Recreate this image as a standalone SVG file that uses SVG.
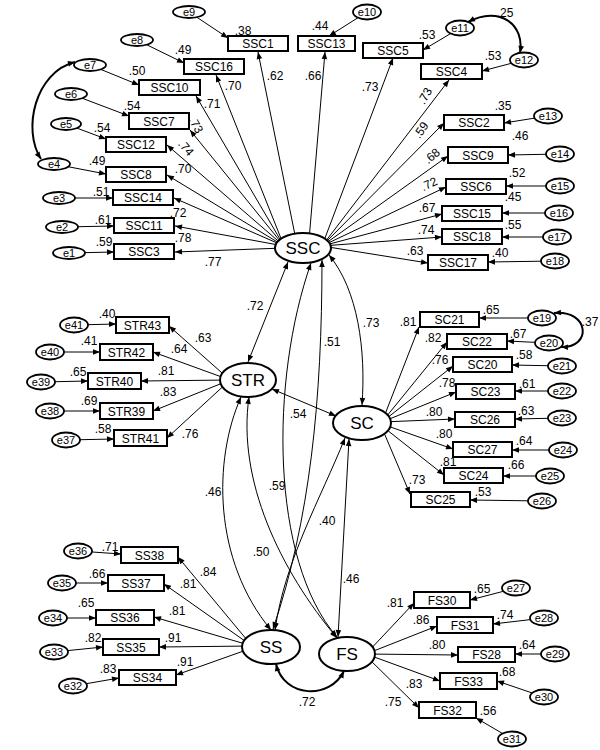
<svg xmlns="http://www.w3.org/2000/svg" width="600" height="750" viewBox="0 0 600 750">
<style>
text{font-family:"Liberation Sans",Arial,sans-serif;fill:#000}
.t{font-size:12px;text-anchor:middle}
.err text{font-size:11px}
.n{font-size:12px;text-anchor:middle}
.L{font-size:17px;text-anchor:middle}
.box rect{fill:#fff;stroke:#000;stroke-width:2}
.lat ellipse{fill:#fff;stroke:#000;stroke-width:2}
.err ellipse{fill:#fff;stroke:#000;stroke-width:1.8}
.a{fill:none;stroke:#000;stroke-width:1;marker-end:url(#ah)}
.b{fill:none;stroke:#000;stroke-width:1;marker-start:url(#ah);marker-end:url(#ah)}
.bb{fill:none;stroke:#000;stroke-width:2;marker-start:url(#ah);marker-end:url(#ah)}
</style>
<defs>
<marker id="ah" viewBox="0 0 10 10" refX="10" refY="5" markerWidth="8" markerHeight="7" markerUnits="userSpaceOnUse" orient="auto-start-reverse"><path d="M0,1 L10,5 L0,9 z" fill="#000"/></marker>
</defs>
<rect width="600" height="750" fill="#fff"/>
<g id="connectors">
<line class="a" x1="296" y1="240" x2="258" y2="52"/>
<line class="a" x1="309" y1="240" x2="325" y2="52"/>
<line class="a" x1="284" y1="246" x2="216" y2="75"/>
<line class="a" x1="284" y1="246" x2="196" y2="96"/>
<line class="a" x1="284" y1="246" x2="190" y2="130"/>
<line class="a" x1="284" y1="246" x2="167" y2="145"/>
<line class="a" x1="284" y1="246" x2="167" y2="175"/>
<line class="a" x1="284" y1="246" x2="174" y2="198"/>
<line class="a" x1="284" y1="246" x2="175" y2="226"/>
<line class="a" x1="284" y1="248" x2="175" y2="252"/>
<line class="a" x1="322" y1="246" x2="393" y2="58"/>
<line class="a" x1="322" y1="246" x2="449" y2="80"/>
<line class="a" x1="322" y1="246" x2="444" y2="123"/>
<line class="a" x1="322" y1="246" x2="448" y2="156"/>
<line class="a" x1="322" y1="246" x2="446" y2="187"/>
<line class="a" x1="322" y1="246" x2="442" y2="214"/>
<line class="a" x1="322" y1="246" x2="442" y2="237"/>
<line class="a" x1="322" y1="246" x2="428" y2="263"/>
<line class="a" x1="189" y1="12" x2="228" y2="38"/>
<line class="a" x1="137" y1="40" x2="184" y2="63"/>
<line class="a" x1="90" y1="65" x2="139" y2="85"/>
<line class="a" x1="71" y1="94" x2="129" y2="116"/>
<line class="a" x1="66" y1="124" x2="106" y2="139"/>
<line class="a" x1="54" y1="164" x2="106" y2="174"/>
<line class="a" x1="59" y1="198" x2="113" y2="198"/>
<line class="a" x1="62" y1="227" x2="114" y2="226"/>
<line class="a" x1="69" y1="253" x2="114" y2="252"/>
<line class="a" x1="367" y1="12" x2="329" y2="36"/>
<line class="a" x1="460" y1="28" x2="423" y2="50"/>
<line class="a" x1="524" y1="60" x2="482" y2="71"/>
<line class="a" x1="548" y1="116" x2="504" y2="123"/>
<line class="a" x1="560" y1="154" x2="508" y2="155"/>
<line class="a" x1="560" y1="186" x2="506" y2="186"/>
<line class="a" x1="559" y1="213" x2="502" y2="213"/>
<line class="a" x1="557" y1="237" x2="502" y2="237"/>
<line class="a" x1="555" y1="261" x2="488" y2="262"/>
<line class="a" x1="230" y1="380" x2="169" y2="326"/>
<line class="a" x1="230" y1="380" x2="153" y2="352"/>
<line class="a" x1="230" y1="380" x2="141" y2="381"/>
<line class="a" x1="230" y1="380" x2="153" y2="411"/>
<line class="a" x1="230" y1="380" x2="167" y2="438"/>
<line class="a" x1="74" y1="325" x2="116" y2="324"/>
<line class="a" x1="50" y1="352" x2="100" y2="352"/>
<line class="a" x1="41" y1="382" x2="88" y2="381"/>
<line class="a" x1="50" y1="411" x2="100" y2="411"/>
<line class="a" x1="66" y1="440" x2="114" y2="439"/>
<line class="a" x1="382" y1="422" x2="419" y2="327"/>
<line class="a" x1="382" y1="422" x2="447" y2="342"/>
<line class="a" x1="382" y1="422" x2="453" y2="366"/>
<line class="a" x1="382" y1="422" x2="456" y2="392"/>
<line class="a" x1="382" y1="422" x2="455" y2="419"/>
<line class="a" x1="382" y1="424" x2="453" y2="449"/>
<line class="a" x1="382" y1="426" x2="444" y2="475"/>
<line class="a" x1="382" y1="428" x2="410" y2="494"/>
<line class="a" x1="542" y1="318" x2="479" y2="318"/>
<line class="a" x1="549" y1="343" x2="507" y2="341"/>
<line class="a" x1="562" y1="366" x2="512" y2="365"/>
<line class="a" x1="562" y1="391" x2="515" y2="391"/>
<line class="a" x1="562" y1="418" x2="515" y2="419"/>
<line class="a" x1="563" y1="450" x2="512" y2="450"/>
<line class="a" x1="550" y1="476" x2="503" y2="476"/>
<line class="a" x1="542" y1="501" x2="470" y2="500"/>
<line class="a" x1="252" y1="646" x2="178" y2="557"/>
<line class="a" x1="252" y1="646" x2="164" y2="584"/>
<line class="a" x1="252" y1="646" x2="154" y2="617"/>
<line class="a" x1="252" y1="646" x2="159" y2="647"/>
<line class="a" x1="252" y1="648" x2="176" y2="675"/>
<line class="a" x1="78" y1="551" x2="121" y2="554"/>
<line class="a" x1="62" y1="583" x2="108" y2="583"/>
<line class="a" x1="53" y1="618" x2="96" y2="618"/>
<line class="a" x1="54" y1="652" x2="103" y2="647"/>
<line class="a" x1="73" y1="686" x2="119" y2="678"/>
<line class="a" x1="366" y1="654" x2="414" y2="603"/>
<line class="a" x1="366" y1="654" x2="437" y2="626"/>
<line class="a" x1="366" y1="654" x2="458" y2="655"/>
<line class="a" x1="366" y1="654" x2="440" y2="681"/>
<line class="a" x1="366" y1="656" x2="419" y2="708"/>
<line class="a" x1="516" y1="588" x2="470" y2="600"/>
<line class="a" x1="544" y1="618" x2="493" y2="624"/>
<line class="a" x1="555" y1="654" x2="515" y2="654"/>
<line class="a" x1="544" y1="697" x2="497" y2="681"/>
<line class="a" x1="512" y1="739" x2="476" y2="718"/>
<line class="b" x1="248" y1="362" x2="288" y2="262"/>
<path class="b" d="M329,255 C358,290 366,350 362,405"/>
<path class="b" d="M322,260 C322,400 310,520 273,629"/>
<path class="b" d="M311,263 C270,380 270,560 337,637"/>
<line class="b" x1="272" y1="389" x2="336" y2="416"/>
<path class="b" d="M241,397 C213,460 213,560 271,630"/>
<path class="b" d="M249,397 C237,480 280,570 337,638"/>
<path class="b" d="M345,438 C320,500 285,560 275,630"/>
<line class="b" x1="349" y1="439" x2="338" y2="637"/>
<path class="bb" d="M276,664 C284,698 330,700 344,671"/>
<path class="bb" d="M75,62 C35,72 22,130 41,159"/>
<path class="bb" d="M468,22 C500,5 525,25 520,53"/>
<path class="bb" d="M554,313 C590,310 592,348 561,347"/>
</g>

<g id="n-SSC" class="lat"><ellipse cx="303" cy="248" rx="28" ry="15"/><text class="L" x="303" y="254">SSC</text></g>
<g id="n-STR" class="lat"><ellipse cx="248" cy="380" rx="28" ry="17"/><text class="L" x="248" y="386">STR</text></g>
<g id="n-SC" class="lat"><ellipse cx="362" cy="423" rx="29" ry="17"/><text class="L" x="362" y="429">SC</text></g>
<g id="n-SS" class="lat"><ellipse cx="271" cy="647" rx="29" ry="17"/><text class="L" x="271" y="653">SS</text></g>
<g id="n-FS" class="lat"><ellipse cx="347" cy="654" rx="28" ry="17"/><text class="L" x="347" y="660">FS</text></g>

<g id="n-SSC1" class="box"><rect x="228" y="36" width="60" height="15"/><text class="t" x="258" y="48">SSC1</text></g>
<g id="n-SSC13" class="box"><rect x="298" y="36" width="57" height="15"/><text class="t" x="326.5" y="48">SSC13</text></g>
<g id="n-SSC16" class="box"><rect x="184" y="59" width="60" height="15"/><text class="t" x="214" y="71">SSC16</text></g>
<g id="n-SSC10" class="box"><rect x="139" y="80" width="61" height="15"/><text class="t" x="169.5" y="92">SSC10</text></g>
<g id="n-SSC7" class="box"><rect x="129" y="113" width="60" height="16"/><text class="t" x="159" y="125.5">SSC7</text></g>
<g id="n-SSC12" class="box"><rect x="106" y="137" width="60" height="15"/><text class="t" x="136" y="149">SSC12</text></g>
<g id="n-SSC8" class="box"><rect x="106" y="167" width="60" height="15"/><text class="t" x="136" y="179">SSC8</text></g>
<g id="n-SSC14" class="box"><rect x="113" y="190" width="60" height="15"/><text class="t" x="143" y="202">SSC14</text></g>
<g id="n-SSC11" class="box"><rect x="114" y="218" width="60" height="15"/><text class="t" x="144" y="230">SSC11</text></g>
<g id="n-SSC3" class="box"><rect x="114" y="244" width="60" height="15"/><text class="t" x="144" y="256">SSC3</text></g>
<g id="n-SSC5" class="box"><rect x="363" y="43" width="60" height="15"/><text class="t" x="393" y="55">SSC5</text></g>
<g id="n-SSC4" class="box"><rect x="421" y="64" width="61" height="15"/><text class="t" x="451.5" y="76">SSC4</text></g>
<g id="n-SSC2" class="box"><rect x="444" y="115" width="60" height="15"/><text class="t" x="474" y="127">SSC2</text></g>
<g id="n-SSC9" class="box"><rect x="448" y="147" width="60" height="16"/><text class="t" x="478" y="159.5">SSC9</text></g>
<g id="n-SSC6" class="box"><rect x="446" y="179" width="60" height="15"/><text class="t" x="476" y="191">SSC6</text></g>
<g id="n-SSC15" class="box"><rect x="442" y="206" width="60" height="15"/><text class="t" x="472" y="218">SSC15</text></g>
<g id="n-SSC18" class="box"><rect x="442" y="229" width="60" height="15"/><text class="t" x="472" y="241">SSC18</text></g>
<g id="n-SSC17" class="box"><rect x="428" y="255" width="60" height="15"/><text class="t" x="458" y="267">SSC17</text></g>

<g id="n-STR43" class="box"><rect x="116" y="317" width="53" height="16"/><text class="t" x="142.5" y="329.5">STR43</text></g>
<g id="n-STR42" class="box"><rect x="100" y="344" width="53" height="16"/><text class="t" x="126.5" y="356.5">STR42</text></g>
<g id="n-STR40" class="box"><rect x="88" y="373" width="53" height="16"/><text class="t" x="114.5" y="385.5">STR40</text></g>
<g id="n-STR39" class="box"><rect x="100" y="403" width="53" height="16"/><text class="t" x="126.5" y="415.5">STR39</text></g>
<g id="n-STR41" class="box"><rect x="114" y="430" width="53" height="16"/><text class="t" x="140.5" y="442.5">STR41</text></g>

<g id="n-SC21" class="box"><rect x="420" y="312" width="59" height="15"/><text class="t" x="449.5" y="324">SC21</text></g>
<g id="n-SC22" class="box"><rect x="447" y="334" width="60" height="15"/><text class="t" x="477" y="346">SC22</text></g>
<g id="n-SC20" class="box"><rect x="453" y="357" width="59" height="15"/><text class="t" x="482.5" y="369">SC20</text></g>
<g id="n-SC23" class="box"><rect x="456" y="384" width="59" height="15"/><text class="t" x="485.5" y="396">SC23</text></g>
<g id="n-SC26" class="box"><rect x="455" y="412" width="60" height="15"/><text class="t" x="485" y="424">SC26</text></g>
<g id="n-SC27" class="box"><rect x="453" y="442" width="59" height="15"/><text class="t" x="482.5" y="454">SC27</text></g>
<g id="n-SC24" class="box"><rect x="444" y="468" width="59" height="15"/><text class="t" x="473.5" y="480">SC24</text></g>
<g id="n-SC25" class="box"><rect x="411" y="492" width="59" height="15"/><text class="t" x="440.5" y="504">SC25</text></g>

<g id="n-SS38" class="box"><rect x="121" y="547" width="57" height="16"/><text class="t" x="149.5" y="559.5">SS38</text></g>
<g id="n-SS37" class="box"><rect x="108" y="575" width="56" height="16"/><text class="t" x="136" y="587.5">SS37</text></g>
<g id="n-SS36" class="box"><rect x="96" y="610" width="58" height="15"/><text class="t" x="125" y="622">SS36</text></g>
<g id="n-SS35" class="box"><rect x="103" y="639" width="56" height="16"/><text class="t" x="131" y="651.5">SS35</text></g>
<g id="n-SS34" class="box"><rect x="119" y="670" width="57" height="15"/><text class="t" x="147.5" y="682">SS34</text></g>

<g id="n-FS30" class="box"><rect x="414" y="592" width="56" height="16"/><text class="t" x="442" y="604.5">FS30</text></g>
<g id="n-FS31" class="box"><rect x="437" y="617" width="56" height="16"/><text class="t" x="465" y="629.5">FS31</text></g>
<g id="n-FS28" class="box"><rect x="458" y="647" width="57" height="15"/><text class="t" x="486.5" y="659">FS28</text></g>
<g id="n-FS33" class="box"><rect x="440" y="673" width="57" height="16"/><text class="t" x="468.5" y="685.5">FS33</text></g>
<g id="n-FS32" class="box"><rect x="419" y="702" width="57" height="16"/><text class="t" x="447.5" y="714.5">FS32</text></g>

<g id="n-e9" class="err"><ellipse cx="189" cy="12" rx="16" ry="6"/><text class="t" x="189" y="16">e9</text></g>
<g id="n-e8" class="err"><ellipse cx="137" cy="40" rx="16" ry="6"/><text class="t" x="137" y="44">e8</text></g>
<g id="n-e7" class="err"><ellipse cx="90" cy="65" rx="16" ry="6"/><text class="t" x="90" y="69">e7</text></g>
<g id="n-e6" class="err"><ellipse cx="71" cy="94" rx="16" ry="6"/><text class="t" x="71" y="98">e6</text></g>
<g id="n-e5" class="err"><ellipse cx="66" cy="124" rx="15" ry="6"/><text class="t" x="66" y="128">e5</text></g>
<g id="n-e4" class="err"><ellipse cx="54" cy="164" rx="16" ry="6"/><text class="t" x="54" y="168">e4</text></g>
<g id="n-e3" class="err"><ellipse cx="59" cy="198" rx="16" ry="6"/><text class="t" x="59" y="202">e3</text></g>
<g id="n-e2" class="err"><ellipse cx="62" cy="227" rx="16" ry="6"/><text class="t" x="62" y="231">e2</text></g>
<g id="n-e1" class="err"><ellipse cx="69" cy="253" rx="16" ry="6"/><text class="t" x="69" y="257">e1</text></g>
<g id="n-e10" class="err"><ellipse cx="367" cy="12" rx="14" ry="7.5"/><text class="t" x="367" y="16">e10</text></g>
<g id="n-e11" class="err"><ellipse cx="460" cy="28" rx="14" ry="7.5"/><text class="t" x="460" y="32">e11</text></g>
<g id="n-e12" class="err"><ellipse cx="524" cy="60" rx="14" ry="7.5"/><text class="t" x="524" y="64">e12</text></g>
<g id="n-e13" class="err"><ellipse cx="548" cy="116" rx="14" ry="7.5"/><text class="t" x="548" y="120">e13</text></g>
<g id="n-e14" class="err"><ellipse cx="560" cy="154" rx="14" ry="7.5"/><text class="t" x="560" y="158">e14</text></g>
<g id="n-e15" class="err"><ellipse cx="560" cy="186" rx="14" ry="7.5"/><text class="t" x="560" y="190">e15</text></g>
<g id="n-e16" class="err"><ellipse cx="559" cy="213" rx="14" ry="7.5"/><text class="t" x="559" y="217">e16</text></g>
<g id="n-e17" class="err"><ellipse cx="557" cy="237" rx="14" ry="7.5"/><text class="t" x="557" y="241">e17</text></g>
<g id="n-e18" class="err"><ellipse cx="555" cy="261" rx="14" ry="7.5"/><text class="t" x="555" y="265">e18</text></g>
<g id="n-e41" class="err"><ellipse cx="74" cy="325" rx="14" ry="7.5"/><text class="t" x="74" y="329">e41</text></g>
<g id="n-e40" class="err"><ellipse cx="50" cy="352" rx="14" ry="7.5"/><text class="t" x="50" y="356">e40</text></g>
<g id="n-e39" class="err"><ellipse cx="41" cy="382" rx="14" ry="7.5"/><text class="t" x="41" y="386">e39</text></g>
<g id="n-e38" class="err"><ellipse cx="50" cy="411" rx="14" ry="7.5"/><text class="t" x="50" y="415">e38</text></g>
<g id="n-e37" class="err"><ellipse cx="66" cy="440" rx="14" ry="7.5"/><text class="t" x="66" y="444">e37</text></g>
<g id="n-e19" class="err"><ellipse cx="542" cy="318" rx="14" ry="7.5"/><text class="t" x="542" y="322">e19</text></g>
<g id="n-e20" class="err"><ellipse cx="549" cy="343" rx="14" ry="7.5"/><text class="t" x="549" y="347">e20</text></g>
<g id="n-e21" class="err"><ellipse cx="562" cy="366" rx="14" ry="7.5"/><text class="t" x="562" y="370">e21</text></g>
<g id="n-e22" class="err"><ellipse cx="562" cy="391" rx="14" ry="7.5"/><text class="t" x="562" y="395">e22</text></g>
<g id="n-e23" class="err"><ellipse cx="562" cy="418" rx="14" ry="7.5"/><text class="t" x="562" y="422">e23</text></g>
<g id="n-e24" class="err"><ellipse cx="563" cy="450" rx="14" ry="7.5"/><text class="t" x="563" y="454">e24</text></g>
<g id="n-e25" class="err"><ellipse cx="550" cy="476" rx="14" ry="7.5"/><text class="t" x="550" y="480">e25</text></g>
<g id="n-e26" class="err"><ellipse cx="542" cy="501" rx="14" ry="7.5"/><text class="t" x="542" y="505">e26</text></g>
<g id="n-e36" class="err"><ellipse cx="78" cy="551" rx="14" ry="7.5"/><text class="t" x="78" y="555">e36</text></g>
<g id="n-e35" class="err"><ellipse cx="62" cy="583" rx="14" ry="7.5"/><text class="t" x="62" y="587">e35</text></g>
<g id="n-e34" class="err"><ellipse cx="53" cy="618" rx="14" ry="7.5"/><text class="t" x="53" y="622">e34</text></g>
<g id="n-e33" class="err"><ellipse cx="54" cy="652" rx="14" ry="7.5"/><text class="t" x="54" y="656">e33</text></g>
<g id="n-e32" class="err"><ellipse cx="73" cy="686" rx="14" ry="7.5"/><text class="t" x="73" y="690">e32</text></g>
<g id="n-e27" class="err"><ellipse cx="516" cy="588" rx="14" ry="7.5"/><text class="t" x="516" y="592">e27</text></g>
<g id="n-e28" class="err"><ellipse cx="544" cy="618" rx="14" ry="7.5"/><text class="t" x="544" y="622">e28</text></g>
<g id="n-e29" class="err"><ellipse cx="555" cy="654" rx="14" ry="7.5"/><text class="t" x="555" y="658">e29</text></g>
<g id="n-e30" class="err"><ellipse cx="544" cy="697" rx="14" ry="7.5"/><text class="t" x="544" y="701">e30</text></g>
<g id="n-e31" class="err"><ellipse cx="512" cy="739" rx="14" ry="7.5"/><text class="t" x="512" y="743">e31</text></g>

<g id="labels">
<text class="n" x="243" y="35">.38</text>
<text class="n" x="275" y="80">.62</text>
<text class="n" x="183" y="54">.49</text>
<text class="n" x="233" y="90">.70</text>
<text class="n" x="137" y="75">.50</text>
<text class="n" x="212" y="108">.71</text>
<text class="n" x="132" y="110">.54</text>
<text class="n" transform="translate(196,125) rotate(60)" x="0" y="4">.73</text>
<text class="n" x="102" y="132">.54</text>
<text class="n" transform="translate(186,148) rotate(50)" x="0" y="4">.74</text>
<text class="n" x="97" y="165">.49</text>
<text class="n" x="183" y="173">.70</text>
<text class="n" x="101" y="196">.51</text>
<text class="n" x="178" y="217">.72</text>
<text class="n" x="103" y="224">.61</text>
<text class="n" x="183" y="242">.78</text>
<text class="n" x="104" y="246">.59</text>
<text class="n" x="213" y="266">.77</text>
<text class="n" x="320" y="30">.44</text>
<text class="n" x="313" y="80">.66</text>
<text class="n" x="427" y="39">.53</text>
<text class="n" x="370" y="91">.73</text>
<text class="n" x="505" y="17">.25</text>
<text class="n" x="493" y="60">.53</text>
<text class="n" transform="translate(425,96) rotate(-60)" x="0" y="4">.73</text>
<text class="n" x="503" y="110">.35</text>
<text class="n" transform="translate(421,130) rotate(-55)" x="0" y="4">.59</text>
<text class="n" x="520" y="140">.46</text>
<text class="n" transform="translate(432,156) rotate(-40)" x="0" y="4">.68</text>
<text class="n" x="517" y="177">.52</text>
<text class="n" transform="translate(429,184) rotate(-25)" x="0" y="4">.72</text>
<text class="n" x="513" y="201">.45</text>
<text class="n" x="427" y="212">.67</text>
<text class="n" x="513" y="229">.55</text>
<text class="n" x="426" y="234">.74</text>
<text class="n" x="415" y="255">.63</text>
<text class="n" x="500" y="257">.40</text>
<text class="n" x="255" y="310">.72</text>
<text class="n" x="107" y="318">.40</text>
<text class="n" x="203" y="342">.63</text>
<text class="n" x="89" y="345">.41</text>
<text class="n" x="179" y="353">.64</text>
<text class="n" x="78" y="376">.65</text>
<text class="n" x="166" y="375">.81</text>
<text class="n" x="89" y="405">.69</text>
<text class="n" x="168" y="396">.83</text>
<text class="n" x="103" y="433">.58</text>
<text class="n" x="190" y="438">.76</text>
<text class="n" x="371" y="327">.73</text>
<text class="n" x="332" y="346">.51</text>
<text class="n" x="298" y="418">.54</text>
<text class="n" x="213" y="496">.46</text>
<text class="n" x="277" y="490">.59</text>
<text class="n" x="327" y="525">.40</text>
<text class="n" x="261" y="556">.50</text>
<text class="n" x="351" y="583">.46</text>
<text class="n" x="307" y="706">.72</text>
<text class="n" x="408" y="326">.81</text>
<text class="n" x="491" y="314">.65</text>
<text class="n" x="590" y="326">.37</text>
<text class="n" x="433" y="342">.82</text>
<text class="n" x="518" y="338">.67</text>
<text class="n" x="440" y="364">.76</text>
<text class="n" x="524" y="359">.58</text>
<text class="n" x="447" y="387">.78</text>
<text class="n" x="527" y="388">.61</text>
<text class="n" x="434" y="416">.80</text>
<text class="n" x="526" y="415">.63</text>
<text class="n" x="444" y="438">.80</text>
<text class="n" x="524" y="445">.64</text>
<text class="n" x="448" y="466">.81</text>
<text class="n" x="516" y="469">.66</text>
<text class="n" x="417" y="484">.73</text>
<text class="n" x="483" y="496">.53</text>
<text class="n" x="110" y="551">.71</text>
<text class="n" x="208" y="576">.84</text>
<text class="n" x="97" y="578">.66</text>
<text class="n" x="188" y="588">.81</text>
<text class="n" x="86" y="607">.65</text>
<text class="n" x="177" y="615">.81</text>
<text class="n" x="93" y="642">.82</text>
<text class="n" x="173" y="642">.91</text>
<text class="n" x="108" y="673">.83</text>
<text class="n" x="185" y="666">.91</text>
<text class="n" x="395" y="607">.81</text>
<text class="n" x="482" y="593">.65</text>
<text class="n" x="421" y="624">.86</text>
<text class="n" x="505" y="619">.74</text>
<text class="n" x="437" y="649">.80</text>
<text class="n" x="527" y="649">.64</text>
<text class="n" x="414" y="688">.83</text>
<text class="n" x="507" y="676">.68</text>
<text class="n" x="393" y="706">.75</text>
<text class="n" x="488" y="715">.56</text>
</g>
</svg>
